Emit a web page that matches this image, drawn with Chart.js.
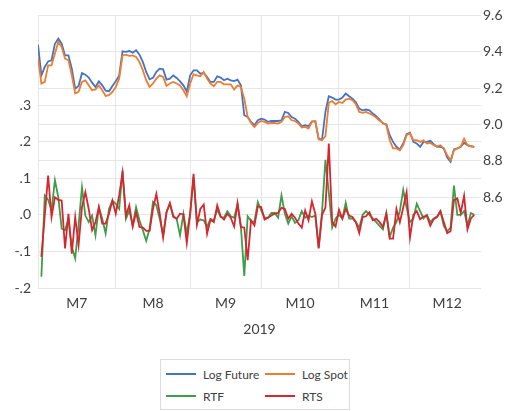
<!DOCTYPE html>
<html>
<head>
<meta charset="utf-8">
<script src="https://cdn.jsdelivr.net/npm/chart.js@4/dist/chart.umd.min.js"></script>
<style>
  html, body { margin: 0; padding: 0; background: #ffffff; }
  #wrap { position: relative; width: 508px; height: 411px; }
  #legend {
    position: absolute; left: 160px; top: 359px; width: 190px; height: 51px;
    box-sizing: border-box; border: 1px solid #dcdcdc; background: #fff;
    display: grid; grid-template-columns: 99px 85px; grid-auto-rows: 22px;
    padding: 3px 0 0 5px; font-family: Lato, "Open Sans", sans-serif; font-size: 12px; color: #404040;
  }
  #legend .item { display: flex; align-items: center; white-space: nowrap; }
  #legend .swatch { display: inline-block; width: 30px; height: 2px; margin-right: 7px; }
</style>
</head>
<body>
<div id="wrap">
  <canvas id="c" width="508" height="411"></canvas>
  <div id="legend"></div>
</div>
<script>
// Trading-day calendar, Jul-Dec 2019
const monthLabels = ['M7', 'M8', 'M9', 'M10', 'M11', 'M12'];
const monthTradingDays = [23, 22, 21, 23, 21, 22];
const yearLabel = '2019';

// Log price levels (right axis)
const logFuture = [
  9.439, 9.270, 9.316, 9.347, 9.353, 9.444, 9.472, 9.444, 9.380, 9.380,
  9.307, 9.197, 9.212, 9.283, 9.274, 9.258, 9.230, 9.206, 9.237, 9.215,
  9.186, 9.183, 9.212, 9.237, 9.270, 9.402, 9.399, 9.404, 9.395, 9.408,
  9.384, 9.344, 9.289, 9.248, 9.256, 9.289, 9.307, 9.303, 9.247, 9.252,
  9.270, 9.256, 9.237, 9.215, 9.180, 9.270, 9.298, 9.298, 9.279, 9.283,
  9.261, 9.234, 9.234, 9.265, 9.258, 9.243, 9.252, 9.243, 9.239, 9.247,
  9.215, 9.051, 9.041, 9.014, 8.996, 9.023, 9.032, 9.027, 9.014, 9.019,
  9.019, 9.019, 9.023, 9.069, 9.063, 9.041, 9.032, 9.014, 8.990, 8.996,
  8.990, 9.017, 9.017, 8.922, 8.917, 9.070, 9.155, 9.148, 9.137, 9.137,
  9.148, 9.170, 9.155, 9.142, 9.122, 9.087, 9.078, 9.082, 9.078, 9.060,
  9.045, 9.027, 9.005, 9.001, 8.941, 8.904, 8.877, 8.862, 8.895, 8.946,
  8.954, 8.904, 8.895, 8.877, 8.904, 8.904, 8.910, 8.891, 8.877, 8.877,
  8.868, 8.818, 8.794, 8.862, 8.868, 8.877, 8.899, 8.886, 8.880, 8.877
];
const logSpot = [
  9.371, 9.225, 9.234, 9.325, 9.325, 9.389, 9.454, 9.426, 9.362, 9.353,
  9.270, 9.170, 9.179, 9.234, 9.243, 9.215, 9.188, 9.193, 9.215, 9.188,
  9.157, 9.161, 9.179, 9.206, 9.252, 9.380, 9.384, 9.377, 9.380, 9.371,
  9.344, 9.298, 9.243, 9.206, 9.225, 9.252, 9.270, 9.261, 9.212, 9.225,
  9.234, 9.225, 9.215, 9.188, 9.155, 9.225, 9.276, 9.270, 9.265, 9.289,
  9.252, 9.225, 9.210, 9.234, 9.234, 9.221, 9.221, 9.221, 9.192, 9.215,
  9.206, 9.142, 9.041, 9.008, 8.986, 9.008, 9.019, 9.014, 9.005, 9.008,
  9.008, 9.005, 9.014, 9.041, 9.045, 9.023, 9.019, 9.005, 8.983, 8.986,
  8.977, 9.014, 9.019, 8.917, 8.913, 8.935, 9.120, 9.129, 9.111, 9.124,
  9.118, 9.137, 9.142, 9.133, 9.111, 9.069, 9.064, 9.069, 9.060, 9.051,
  9.038, 9.020, 9.009, 8.996, 8.913, 8.868, 8.868, 8.858, 8.886, 8.941,
  8.950, 8.913, 8.913, 8.904, 8.913, 8.895, 8.899, 8.886, 8.880, 8.886,
  8.868, 8.831, 8.803, 8.858, 8.868, 8.877, 8.922, 8.886, 8.880, 8.877
];

// Daily returns (left axis); no return on the first day
const rtf = [
  null, -0.169, 0.053, 0.041, 0.012, 0.095, 0.048, -0.038, -0.042, -0.011,
  -0.088, -0.119, -0.029, 0.075, -0.002, -0.020, -0.002, -0.056, 0.021, -0.011,
  -0.051, 0.016, 0.039, 0.030, 0.016, 0.121, -0.011, 0.012, -0.029, 0.021,
  -0.015, -0.042, -0.071, -0.038, 0.035, 0.026, -0.011, -0.056, 0.007, 0.030,
  -0.002, -0.011, -0.056, 0.003, -0.051, 0.003, 0.103, -0.020, -0.013, -0.015,
  -0.033, -0.011, -0.015, 0.014, -0.006, -0.008, 0.010, -0.004, -0.008, 0.028,
  -0.033, -0.167, -0.004, -0.017, -0.020, 0.035, 0.012, -0.008, -0.008, 0.005,
  0.005, -0.008, 0.053, 0.003, -0.024, -0.004, -0.022, -0.015, 0.010, -0.008,
  -0.002, -0.006, -0.002, -0.090, 0.010, 0.150, 0.060, -0.035, -0.010, 0.000,
  -0.010, 0.033, -0.010, -0.010, -0.020, -0.035, 0.000, 0.010, 0.000, -0.010,
  -0.020, -0.030, -0.040, 0.005, -0.060, -0.035, -0.020, 0.010, 0.068, 0.020,
  -0.020, -0.010, 0.030, 0.010, -0.010, 0.000, -0.020, -0.010, -0.005, 0.010,
  -0.030, -0.045, -0.035, 0.080, 0.000, 0.000, 0.010, -0.030, 0.005, 0.000
];
const rts = [
  null, -0.115, -0.002, 0.107, -0.006, 0.048, 0.041, 0.039, -0.092, 0.003,
  -0.106, -0.006, -0.083, 0.021, 0.062, 0.016, -0.042, -0.020, 0.021, -0.024,
  -0.024, 0.003, 0.039, 0.003, 0.053, 0.115, -0.002, 0.026, -0.032, 0.007,
  -0.033, -0.035, -0.044, -0.044, 0.016, 0.057, 0.003, -0.062, 0.007, 0.032,
  -0.006, -0.011, 0.003, 0.001, -0.077, 0.003, 0.112, -0.027, 0.016, 0.028,
  -0.052, -0.013, -0.020, 0.026, -0.004, -0.013, 0.003, -0.008, -0.032, 0.032,
  -0.033, -0.035, -0.124, -0.015, -0.029, 0.023, 0.021, -0.013, -0.008, -0.002,
  0.003, 0.005, 0.019, 0.016, -0.011, 0.003, -0.008, -0.024, -0.035, 0.012,
  -0.015, 0.037, 0.003, -0.092, 0.000, 0.020, 0.195, -0.020, -0.032, 0.014,
  -0.011, 0.016, -0.002, -0.006, -0.020, -0.050, -0.006, -0.004, 0.007, -0.015,
  -0.011, -0.020, -0.033, 0.003, -0.065, -0.065, 0.016, -0.020, 0.020, 0.062,
  -0.062, 0.000, 0.010, -0.012, -0.005, -0.003, -0.030, -0.012, -0.006, 0.010,
  -0.020, -0.050, -0.045, 0.040, 0.045, 0.005, 0.052, -0.040, -0.010, 0.000
];

// Axis tick values
const leftTicks = [-0.2, -0.1, 0.0, 0.1, 0.2, 0.3];
const rightTicks = [8.6, 8.8, 9.0, 9.2, 9.4, 9.6];

// Month boundaries (gridlines) and month centres (labels) in trading-day index units
const monthStarts = [];
const monthMids = [];
let acc = 0;
monthTradingDays.forEach(n => { monthStarts.push(acc); monthMids.push(acc + n / 2); acc += n; });
const xTicks = monthStarts.concat(monthMids).sort((a, b) => a - b);

const toPoints = arr => arr.map((v, i) => ({ x: i, y: v }));

Chart.defaults.font.family = 'Lato, "Open Sans", sans-serif';
Chart.defaults.font.size = 14;
Chart.defaults.color = '#404040';

const gridColor = '#e6e6e6';

const chart = new Chart(document.getElementById('c'), {
  type: 'line',
  data: {
    datasets: [
      { label: 'Log Future', data: toPoints(logFuture), yAxisID: 'yRight', borderColor: '#4472c4', order: 4 },
      { label: 'Log Spot', data: toPoints(logSpot), yAxisID: 'yRight', borderColor: '#ed7d31', order: 3 },
      { label: 'RTF', data: toPoints(rtf), yAxisID: 'yLeft', borderColor: '#3e9c4b', order: 2 },
      { label: 'RTS', data: toPoints(rts), yAxisID: 'yLeft', borderColor: '#d8262f', order: 1 }
    ]
  },
  options: {
    responsive: false,
    animation: false,
    events: [],
    layout: { padding: { top: 15, bottom: 68, left: 0, right: 0 } },
    plugins: { legend: { display: false }, tooltip: { enabled: false } },
    elements: {
      line: { tension: 0, borderWidth: 1.8, fill: false },
      point: { radius: 0 }
    },
    scales: {
      x: {
        type: 'linear',
        min: 0,
        max: 131,
        afterBuildTicks: s => { s.ticks = xTicks.map(v => ({ value: v })); },
        afterFit: s => { s.height = 55; },
        border: { display: false },
        grid: {
          drawTicks: false,
          color: c => (c.tick && monthStarts.includes(c.tick.value)) ? gridColor : 'rgba(0,0,0,0)'
        },
        ticks: {
          autoSkip: false,
          maxRotation: 0,
          padding: 7,
          callback: v => {
            const k = monthMids.indexOf(v);
            return k >= 0 ? monthLabels[k] : '';
          }
        },
        title: { display: true, text: yearLabel, padding: { top: 0, bottom: 5 }, font: { size: 14 } }
      },
      yLeft: {
        type: 'linear',
        position: 'left',
        min: -0.2,
        max: 0.545,
        afterBuildTicks: s => { s.ticks = leftTicks.map(v => ({ value: v })); },
        afterFit: s => { s.width = 38; },
        border: { display: false },
        grid: { drawTicks: false, color: gridColor },
        ticks: {
          padding: 7,
          callback: v => v.toFixed(1).replace('0.', '.')
        }
      },
      yRight: {
        type: 'linear',
        position: 'right',
        min: 8.1,
        max: 9.6,
        afterBuildTicks: s => { s.ticks = rightTicks.map(v => ({ value: v })); },
        afterFit: s => { s.width = 27; },
        border: { display: false },
        grid: { drawTicks: false, color: gridColor },
        ticks: {
          padding: 2,
          callback: v => v.toFixed(1)
        }
      }
    }
  }
});

// Two-column legend built from the chart's datasets
const legend = document.getElementById('legend');
chart.data.datasets.forEach(ds => {
  const item = document.createElement('div');
  item.className = 'item';
  const sw = document.createElement('span');
  sw.className = 'swatch';
  sw.style.background = ds.borderColor;
  const txt = document.createElement('span');
  txt.textContent = ds.label;
  item.appendChild(sw);
  item.appendChild(txt);
  legend.appendChild(item);
});
</script>
</body>
</html>
